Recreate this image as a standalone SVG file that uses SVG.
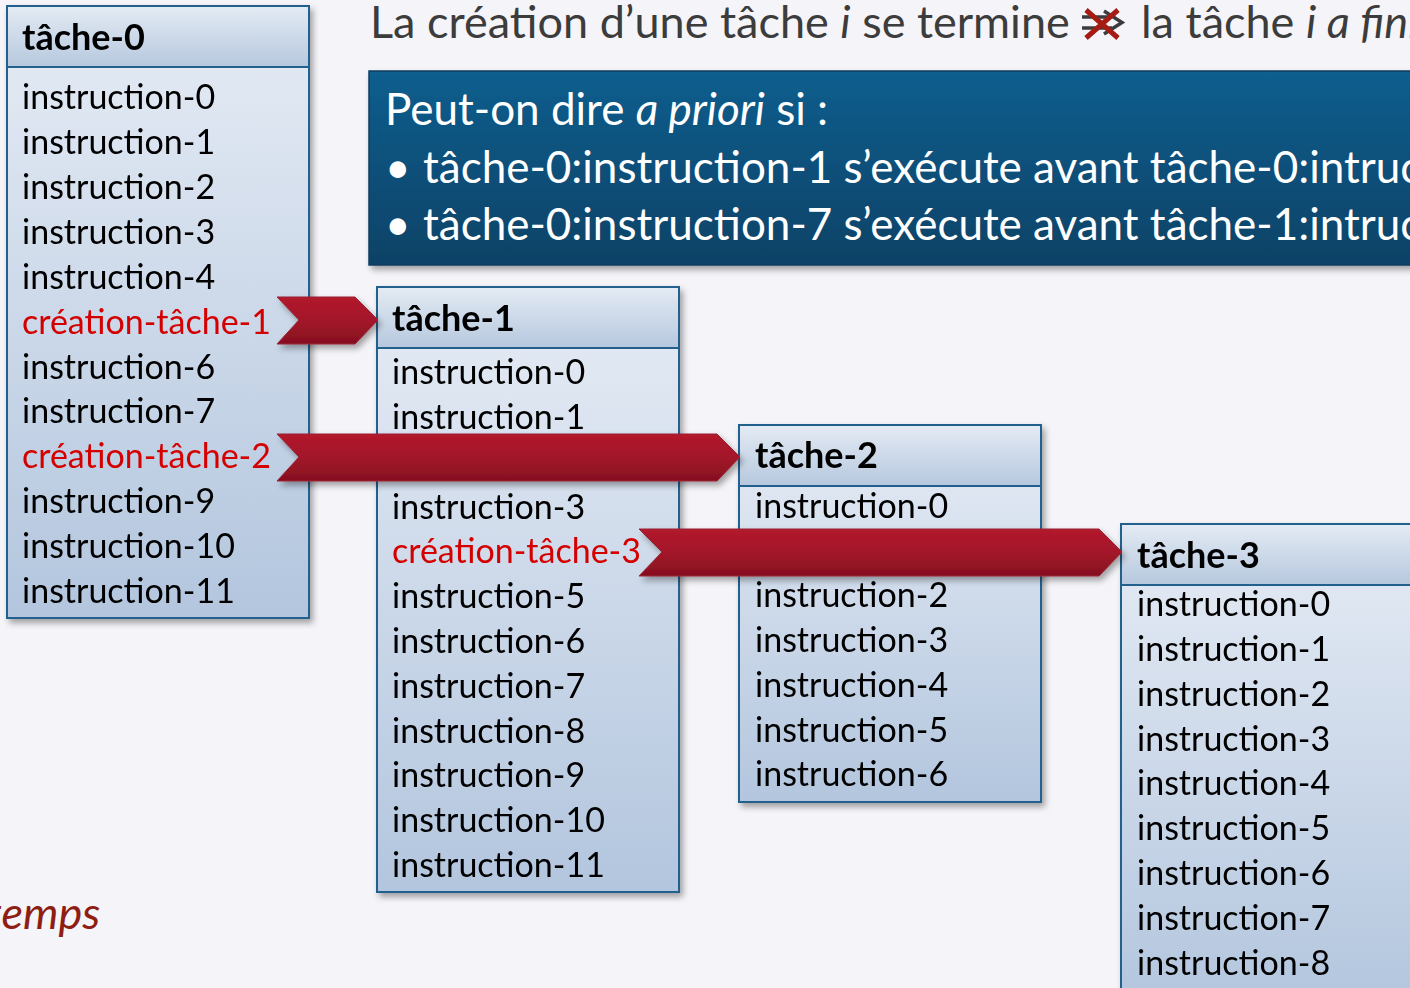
<svg xmlns="http://www.w3.org/2000/svg" width="1410" height="988" viewBox="0 0 1410 988">
<defs>
<linearGradient id="gBody" x1="0" y1="0" x2="0" y2="1"><stop offset="0" stop-color="#e6ecf5"/><stop offset="1" stop-color="#b3c6de"/></linearGradient>
<linearGradient id="gHead" x1="0" y1="0" x2="0" y2="1"><stop offset="0" stop-color="#e4ebf4"/><stop offset="1" stop-color="#b6c8de"/></linearGradient>
<linearGradient id="gBlue" x1="0" y1="0" x2="0" y2="1"><stop offset="0" stop-color="#115e8e"/><stop offset="1" stop-color="#0a4266"/></linearGradient>
<linearGradient id="gRed" x1="0" y1="0" x2="0" y2="1"><stop offset="0" stop-color="#b21a2c"/><stop offset="0.5" stop-color="#a3162a"/><stop offset="1" stop-color="#85101f"/></linearGradient>
<filter id="sh" x="-5%" y="-5%" width="115%" height="115%"><feDropShadow dx="3" dy="4" stdDeviation="3" flood-color="#000" flood-opacity="0.35"/></filter>
</defs>
<style>
text{font-family:"Lato","Open Sans","DejaVu Sans",sans-serif}
.it{font-size:34px;fill:#000}
.red{fill:#d40000}
.hd{font-size:36px;font-weight:bold;fill:#000}
.box{fill:url(#gBody);stroke:#20608e;stroke-width:2}
.head{fill:url(#gHead);stroke:#20608e;stroke-width:2}
.arr{fill:url(#gRed);stroke:#9a2434;stroke-width:1}
.wt{fill:#fff;font-size:44px}
</style>
<rect width="1410" height="988" fill="#f5f4f9"/>

<g id="title">
<text x="370" y="38" font-size="45" fill="#3c3c3c">La création d’une tâche <tspan font-style="italic">i</tspan> se termine</text>
<g id="notimplies">
<path d="M1082,17 H1112 M1082,28 H1112 M1104,11 L1122,22.5 L1104,34" fill="none" stroke="#3c3c3c" stroke-width="3.5"/>
<path d="M1086,10 L1118,38 M1118,10 L1086,38" stroke="#a51c14" stroke-width="5"/>
</g>
<text x="1141" y="38" font-size="45" fill="#3c3c3c">la tâche <tspan font-style="italic">i a fini</tspan></text>
</g>

<g id="question">
<rect x="369" y="71" width="1050" height="194" fill="url(#gBlue)" stroke="#0a3e60" stroke-width="1.5" filter="url(#sh)"/>
<text x="385" y="125" class="wt">Peut-on dire <tspan font-style="italic">a priori</tspan> si :</text>
<text x="385" y="183" class="wt">•</text>
<text x="423" y="183" class="wt">tâche-0:instruction-1 s’exécute avant tâche-0:intruc</text>
<text x="385" y="240" class="wt">•</text>
<text x="423" y="240" class="wt">tâche-0:instruction-7 s’exécute avant tâche-1:intruc</text>
</g>

<g id="temps"><text x="-14" y="929" font-size="45" font-style="italic" fill="#8e1d12">temps</text></g>

<g id="tache-0" filter="url(#sh)">
<rect class="box" x="7" y="6" width="302" height="612"/>
<rect class="head" x="7" y="6" width="302" height="61"/>
<text class="hd" x="22" y="50">tâche-0</text>
<text class="it" x="22" y="109">instruction-0</text>
<text class="it" x="22" y="154">instruction-1</text>
<text class="it" x="22" y="199">instruction-2</text>
<text class="it" x="22" y="244">instruction-3</text>
<text class="it" x="22" y="289">instruction-4</text>
<text class="it red" x="22" y="334">création-tâche-1</text>
<text class="it" x="22" y="379">instruction-6</text>
<text class="it" x="22" y="423">instruction-7</text>
<text class="it red" x="22" y="468">création-tâche-2</text>
<text class="it" x="22" y="513">instruction-9</text>
<text class="it" x="22" y="558">instruction-10</text>
<text class="it" x="22" y="603">instruction-11</text>
</g>

<g id="tache-1" filter="url(#sh)">
<rect class="box" x="377" y="287" width="302" height="605"/>
<rect class="head" x="377" y="287" width="302" height="61"/>
<text class="hd" x="392" y="331">tâche-1</text>
<text class="it" x="392" y="384">instruction-0</text>
<text class="it" x="392" y="429">instruction-1</text>
<text class="it" x="392" y="519">instruction-3</text>
<text class="it red" x="392" y="563">création-tâche-3</text>
<text class="it" x="392" y="608">instruction-5</text>
<text class="it" x="392" y="653">instruction-6</text>
<text class="it" x="392" y="698">instruction-7</text>
<text class="it" x="392" y="743">instruction-8</text>
<text class="it" x="392" y="787">instruction-9</text>
<text class="it" x="392" y="832">instruction-10</text>
<text class="it" x="392" y="877">instruction-11</text>
</g>

<g id="tache-2" filter="url(#sh)">
<rect class="box" x="739" y="425" width="302" height="377"/>
<rect class="head" x="739" y="425" width="302" height="61"/>
<text class="hd" x="755" y="468">tâche-2</text>
<text class="it" x="755" y="518">instruction-0</text>
<text class="it" x="755" y="607">instruction-2</text>
<text class="it" x="755" y="652">instruction-3</text>
<text class="it" x="755" y="697">instruction-4</text>
<text class="it" x="755" y="742">instruction-5</text>
<text class="it" x="755" y="786">instruction-6</text>
</g>

<g id="tache-3" filter="url(#sh)">
<rect class="box" x="1121" y="524" width="310" height="480"/>
<rect class="head" x="1121" y="524" width="310" height="61"/>
<text class="hd" x="1137" y="568">tâche-3</text>
<text class="it" x="1137" y="616">instruction-0</text>
<text class="it" x="1137" y="661">instruction-1</text>
<text class="it" x="1137" y="706">instruction-2</text>
<text class="it" x="1137" y="751">instruction-3</text>
<text class="it" x="1137" y="795">instruction-4</text>
<text class="it" x="1137" y="840">instruction-5</text>
<text class="it" x="1137" y="885">instruction-6</text>
<text class="it" x="1137" y="930">instruction-7</text>
<text class="it" x="1137" y="975">instruction-8</text>
</g>

<g id="connectors" filter="url(#sh)">
<polygon class="arr" points="277,297 355,297 378,320 355,344 277,344 299,320"/>
<polygon class="arr" points="277,434 717,434 740,457 717,481 277,481 299,457"/>
<polygon class="arr" points="639,529 1099,529 1122,552 1099,576 639,576 662,552"/>
</g>
</svg>
